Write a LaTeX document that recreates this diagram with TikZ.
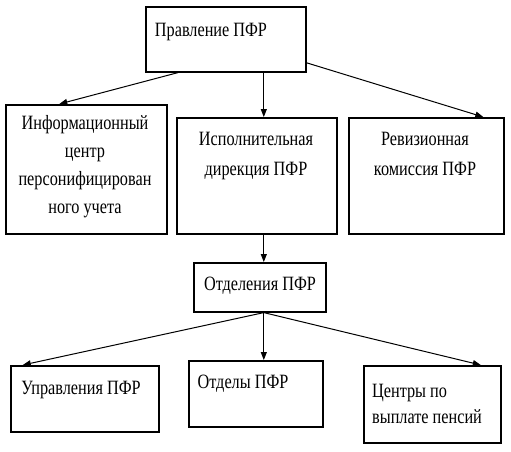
\documentclass[tikz,border=0pt]{standalone}
\usepackage{fontspec}
\setmainfont[FakeStretch=0.8]{Liberation Serif}
\usetikzlibrary{arrows.meta,positioning}

\begin{document}
\begin{tikzpicture}[
  x=1pt, y=-1pt,
  box/.style={rectangle, draw, line width=1.6pt, anchor=north west, inner sep=0pt},
  lbl/.style={font=\fontsize{20.3}{28}\selectfont, align=center, inner sep=0pt, anchor=base},
  link/.style={->, line width=1pt},
  >={Triangle[length=8pt,width=6pt]}
]
  \useasboundingbox (0,0) rectangle (511,451);

  %--- BOXES ---
  \node[box, minimum width=160pt, minimum height=65pt]  (top)   at (145,6)   {};
  \node[box, minimum width=161pt, minimum height=129pt] (info)  at (5,104)   {};
  \node[box, minimum width=160pt, minimum height=116pt] (exec)  at (176,117) {};
  \node[box, minimum width=155pt, minimum height=116pt] (rev)   at (348,117) {};
  \node[box, minimum width=132pt, minimum height=49pt]  (otd)   at (193,262) {};
  \node[box, minimum width=148pt, minimum height=66pt]  (upr)   at (10,365)  {};
  \node[box, minimum width=134pt, minimum height=66pt]  (otdly) at (188,360) {};
  \node[box, minimum width=137pt, minimum height=77pt]  (centr) at (363,365) {};

  %--- TEXTS (base = last line) ---
  \node[lbl] (topT)   at (211,36)  {Правление ПФР};
  \node[lbl] (infoT)  at (85,213)  {Информационный\\центр\\персонифицирован\\ного учета};
  \node[lbl, font=\fontsize{20.3}{30}\selectfont] (execT) at (256,175) {Исполнительная\\дирекция ПФР};
  \node[lbl, font=\fontsize{20.3}{30}\selectfont] (revT)  at (425,175) {Ревизионная\\комиссия ПФР};
  \node[lbl] (otdT)   at (260,290) {Отделения ПФР};
  \node[lbl] (uprT)   at (81,394)  {Управления ПФР};
  \node[lbl] (otdlyT) at (243,388) {Отделы ПФР};
  \node[lbl, font=\fontsize{20.3}{26}\selectfont, align=left, anchor=base west] (centrT) at (372,423) {Центры по\\выплате пенсий};

  %--- ARROWS ---
  \draw[link] ([xshift=33pt]top.south west) -- ([xshift=-27pt]info.north);
  \draw[link] ([xshift=38pt]top.south) -- ([xshift=7pt]exec.north);
  \draw[link] ([yshift=-23.5pt]top.east) -- ([xshift=57pt]rev.north);
  \draw[link] ([xshift=7pt]exec.south) -- ([xshift=4pt]otd.north);
  \foreach \n/\s in {upr/-62, otdly/8, centr/48.5}{
    \draw[link] ([xshift=4pt]otd.south) -- ([xshift=\s pt]\n.north);
  }
\end{tikzpicture}
\end{document}
